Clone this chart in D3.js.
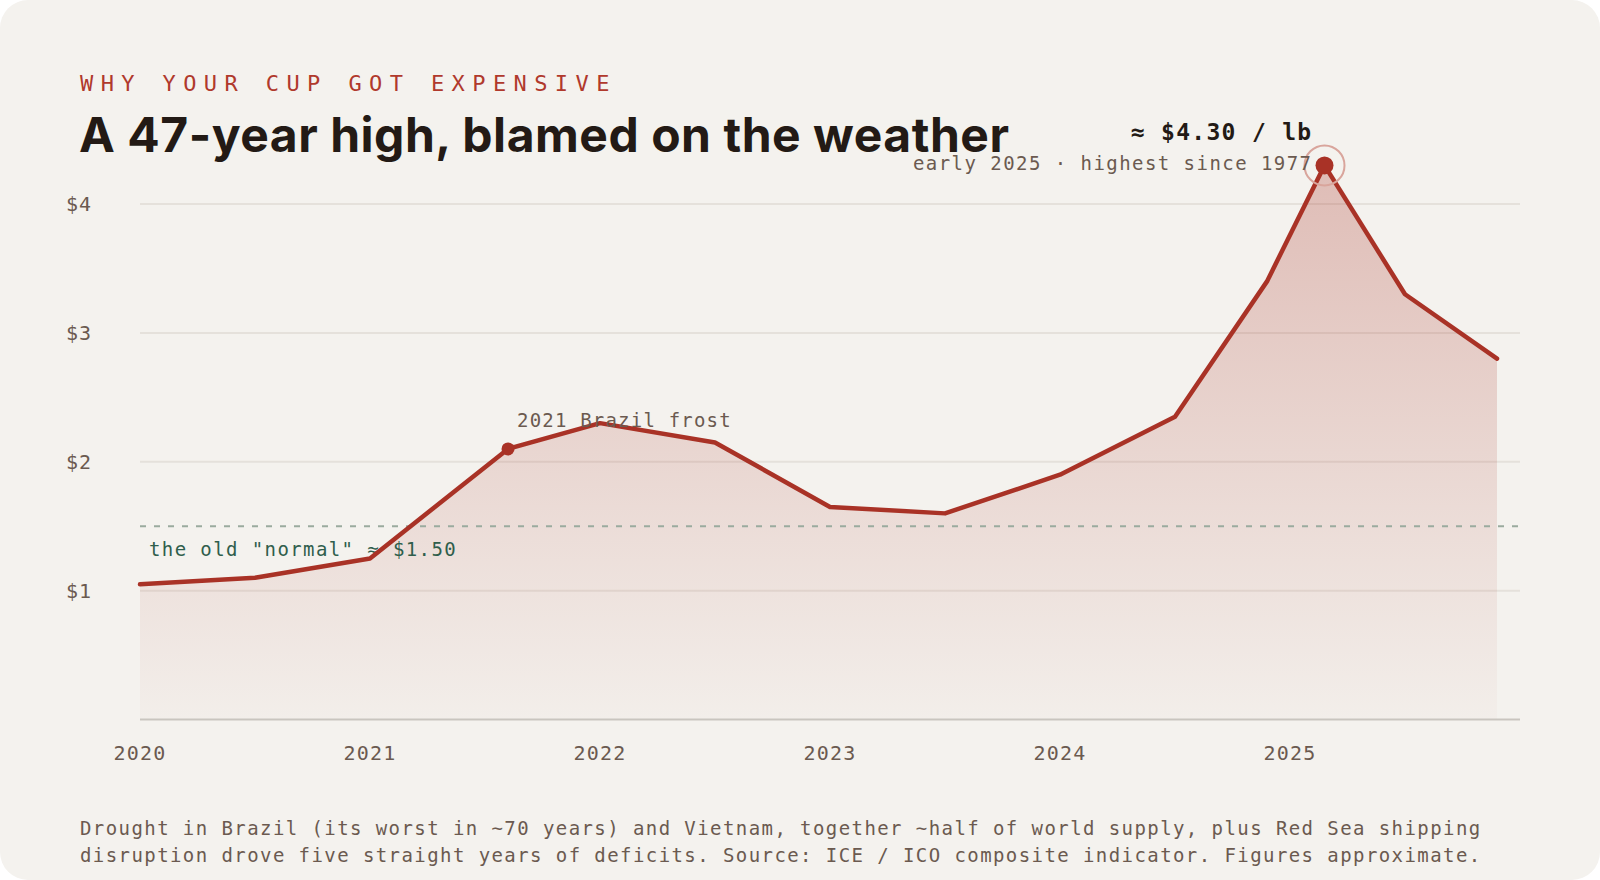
<!DOCTYPE html>
<html>
<head>
<meta charset="utf-8">
<script src="https://cdn.jsdelivr.net/npm/d3@7"></script>
<style>
  body { margin: 0; background: #ffffff; }
  svg { display: block; }
</style>
</head>
<body>
<svg id="chart" width="1600" height="880"></svg>
<script>
// coffee price, $/lb (approx, read off the ICE/ICO composite)
var years = [2020, 2020.5, 2021, 2021.6, 2022, 2022.5, 2023, 2023.5, 2024, 2024.5, 2024.9, 2025.15, 2025.5, 2025.9];
var prices = [1.05, 1.10, 1.25, 2.10, 2.30, 2.15, 1.65, 1.60, 1.90, 2.35, 3.40, 4.30, 3.30, 2.80];
var yTicks = [1, 2, 3, 4];
var xTicks = [2020, 2021, 2022, 2023, 2024, 2025];
var normalPrice = 1.50;
var frostIdx = 3;
var peakIdx = 11;

var data = years.map(function(d, i) { return { x: d, y: prices[i] }; });

var mono = "'DejaVu Sans Mono', monospace";
var svg = d3.select("#chart");

svg.append("rect")
    .attr("x", 0).attr("y", 0)
    .attr("width", 1600).attr("height", 880)
    .attr("rx", 28)
    .style("fill", "#f4f2ee");

var x = d3.scaleLinear().domain([2020, 2026]).range([140, 1520]);
var y = d3.scaleLinear().domain([0, 4.5]).range([719.6, 139.6]);

// gradient for area
var defs = svg.append("defs");
var grad = defs.append("linearGradient")
    .attr("id", "fillGrad")
    .attr("x1", 0).attr("y1", 0).attr("x2", 0).attr("y2", 1);
grad.append("stop").attr("offset", "0%").attr("stop-color", "#a93226").attr("stop-opacity", 0.28);
grad.append("stop").attr("offset", "100%").attr("stop-color", "#a93226").attr("stop-opacity", 0.02);

// gridlines
svg.append("g")
    .selectAll("line")
    .data(yTicks)
    .enter()
    .append("line")
    .attr("x1", x(2020)).attr("x2", x(2026))
    .attr("y1", function(d) { return y(d); })
    .attr("y2", function(d) { return y(d); })
    .attr("stroke", "#e5e1db")
    .attr("stroke-width", 2);

// y labels
svg.append("g")
    .selectAll("text")
    .data(yTicks)
    .enter()
    .append("text")
    .attr("x", 66)
    .attr("y", function(d) { return y(d) + 7; })
    .text(function(d) { return "$" + d; })
    .attr("font-family", mono)
    .attr("font-size", "20px")
    .attr("letter-spacing", "1px")
    .attr("fill", "#6b5a50");

// area + line
var area = d3.area()
    .x(function(d) { return x(d.x); })
    .y0(y(0))
    .y1(function(d) { return y(d.y); });

var line = d3.line()
    .x(function(d) { return x(d.x); })
    .y(function(d) { return y(d.y); });

svg.append("path")
    .datum(data)
    .attr("d", area)
    .style("fill", "url(#fillGrad)");

// baseline axis
svg.append("line")
    .attr("x1", x(2020)).attr("x2", x(2026))
    .attr("y1", y(0)).attr("y2", y(0))
    .attr("stroke", "#c9c5bf")
    .attr("stroke-width", 2);

// old normal
svg.append("line")
    .attr("x1", x(2020)).attr("x2", x(2026))
    .attr("y1", y(normalPrice)).attr("y2", y(normalPrice))
    .attr("stroke", "#9aab9e")
    .attr("stroke-width", 2)
    .attr("stroke-dasharray", "6 8");

svg.append("text")
    .attr("x", x(2020) + 9)
    .attr("y", y(normalPrice) + 30)
    .text('the old "normal" \u2248 $1.50')
    .attr("font-family", mono)
    .attr("font-size", "19px")
    .attr("letter-spacing", "1.4px")
    .attr("fill", "#2f5e4c");

svg.append("path")
    .datum(data)
    .attr("d", line)
    .style("fill", "none")
    .attr("stroke", "#a93226")
    .attr("stroke-width", 4.5)
    .attr("stroke-linejoin", "round")
    .attr("stroke-linecap", "round");

// x labels
svg.append("g")
    .selectAll("text")
    .data(xTicks)
    .enter()
    .append("text")
    .attr("x", function(d) { return x(d); })
    .attr("y", 760)
    .attr("text-anchor", "middle")
    .text(function(d) { return d; })
    .attr("font-family", mono)
    .attr("font-size", "20px")
    .attr("letter-spacing", "1.2px")
    .attr("fill", "#6b5a50");

// frost marker
var frost = data[frostIdx];
svg.append("circle")
    .attr("cx", x(frost.x)).attr("cy", y(frost.y))
    .attr("r", 6.5)
    .style("fill", "#a93226");

svg.append("text")
    .attr("x", x(frost.x) + 9)
    .attr("y", y(frost.y) - 22)
    .text("2021 Brazil frost")
    .attr("font-family", mono)
    .attr("font-size", "19px")
    .attr("letter-spacing", "1.2px")
    .attr("fill", "#6b5a50");

// peak marker
var peak = data[peakIdx];
svg.append("circle")
    .attr("cx", x(peak.x)).attr("cy", y(peak.y))
    .attr("r", 20)
    .style("fill", "none")
    .attr("stroke", "#d9a59c")
    .attr("stroke-width", 2);

svg.append("circle")
    .attr("cx", x(peak.x)).attr("cy", y(peak.y))
    .attr("r", 9)
    .style("fill", "#a93226");

svg.append("text")
    .attr("x", x(peak.x) - 12)
    .attr("y", y(peak.y) - 25)
    .attr("text-anchor", "end")
    .text("\u2248 $4.30 / lb")
    .attr("font-family", mono)
    .attr("font-size", "23px")
    .attr("font-weight", "bold")
    .attr("letter-spacing", "1.3px")
    .attr("fill", "#231a15");

svg.append("text")
    .attr("x", x(peak.x) - 12)
    .attr("y", y(peak.y) + 5)
    .attr("text-anchor", "end")
    .text("early 2025 \u00b7 highest since 1977")
    .attr("font-family", mono)
    .attr("font-size", "19px")
    .attr("letter-spacing", "1.45px")
    .attr("fill", "#6b5a50");

// headings
svg.append("text")
    .attr("x", 80)
    .attr("y", 91)
    .text("WHY YOUR CUP GOT EXPENSIVE")
    .attr("font-family", mono)
    .attr("font-size", "22px")
    .attr("letter-spacing", "7.4px")
    .attr("fill", "#b0392c");

var title = svg.append("text")
    .attr("x", 79)
    .attr("y", 152)
    .text("A 47-year high, blamed on the weather")
    .attr("font-family", "Inter, 'Noto Sans', sans-serif")
    .attr("font-size", "48px")
    .attr("font-weight", "bold")
    .attr("fill", "#231a15");

// squeeze title to the reference width
var tw = title.node().getComputedTextLength();
var n = title.text().length;
title.attr("letter-spacing", ((930 - tw) / (n - 1)) + "px");

// footnote
var foot = [
    "Drought in Brazil (its worst in ~70 years) and Vietnam, together ~half of world supply, plus Red Sea shipping",
    "disruption drove five straight years of deficits. Source: ICE / ICO composite indicator. Figures approximate."
];
svg.append("g")
    .selectAll("text")
    .data(foot)
    .enter()
    .append("text")
    .attr("x", 80)
    .attr("y", function(d, i) { return 835 + i * 27; })
    .text(function(d) { return d; })
    .attr("font-family", mono)
    .attr("font-size", "19px")
    .attr("letter-spacing", "1.42px")
    .attr("fill", "#6b5a50");
</script>
</body>
</html>
